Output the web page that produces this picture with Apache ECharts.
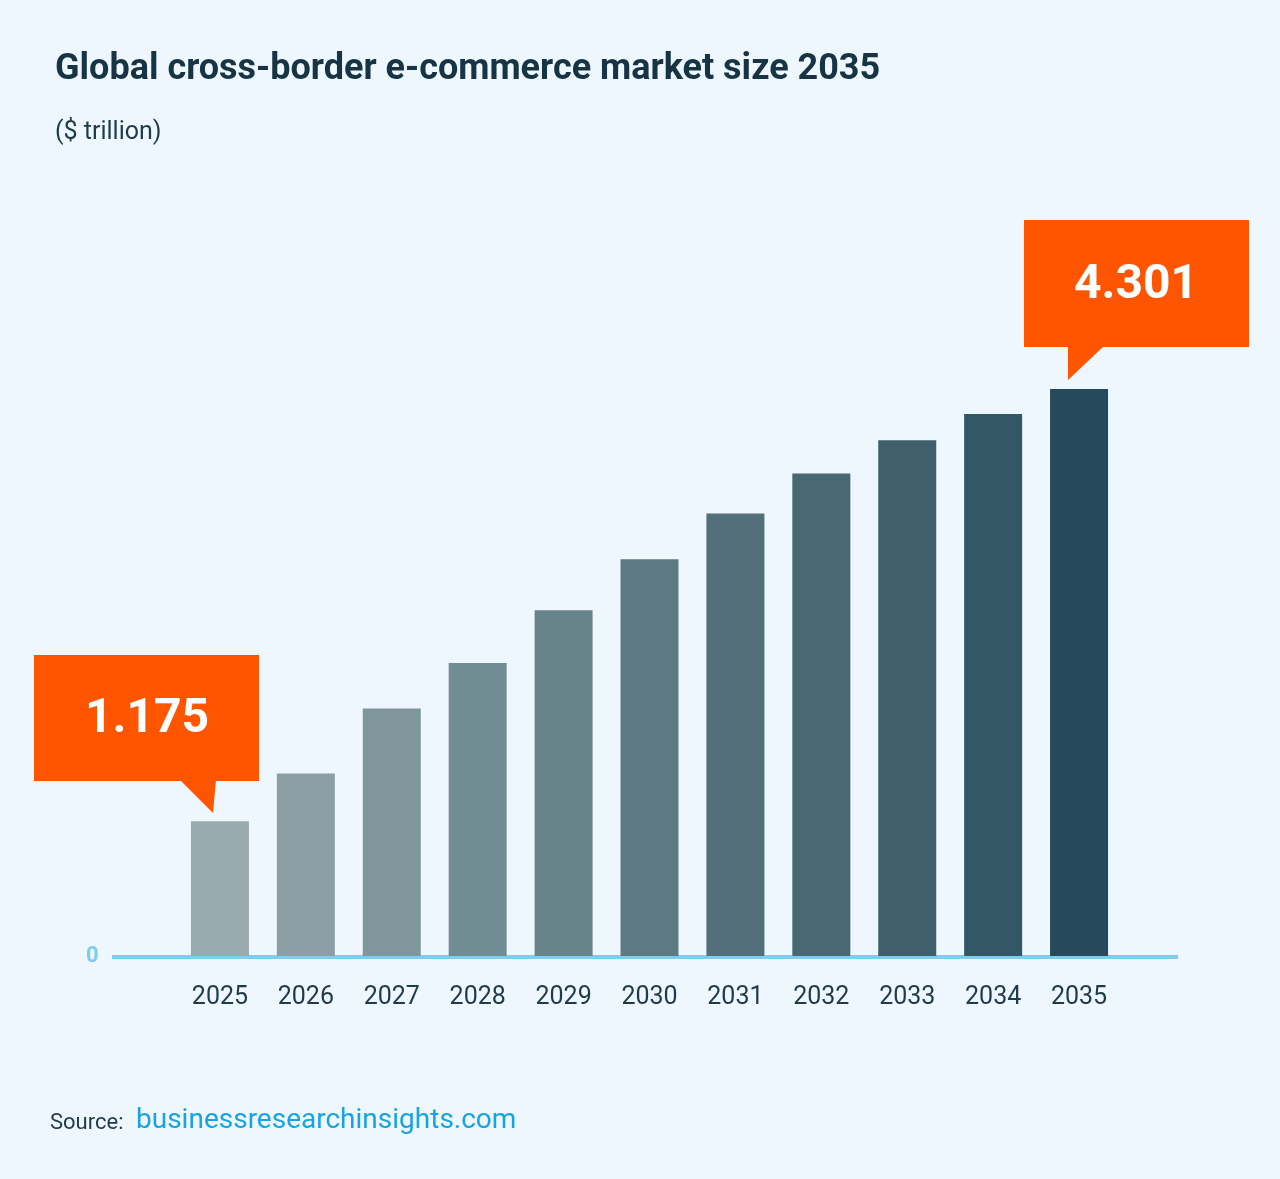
<!DOCTYPE html>
<html><head><meta charset="utf-8">
<script src="https://cdn.jsdelivr.net/npm/echarts@6/dist/echarts.min.js"></script>
<style>html,body{margin:0;padding:0;background:#edf7fd;}#chart{width:1280px;height:1179px;}</style>
</head><body><div id="chart"></div>
<script>
var years = ['2025','2026','2027','2028','2029','2030','2031','2032','2033','2034','2035'];
var values = [1.175, 1.52, 1.99, 2.32, 2.70, 3.07, 3.40, 3.69, 3.93, 4.12, 4.301];
var barColors = ['#9aabb0','#8c9fa5','#7f969c','#728c93','#688389','#5d7a83','#526f7a','#486873','#3e5f6b','#325866','#254b5a'];

var chart = echarts.init(document.getElementById('chart'));
var dark = '#1f3b4a', orange = '#ff5500';
var option = {
    backgroundColor: '#edf7fd',
    textStyle: {fontFamily: 'Roboto'},
    title: [
        {text: 'Global cross-border e-commerce market size 2035', left: 50, top: 47,
         textStyle: {fontSize: 36, fontWeight: 'bold', color: '#163443', fontFamily: 'Roboto'}},
        {text: '($ trillion)', left: 50, top: 115,
         textStyle: {fontSize: 25, fontWeight: 'normal', color: dark, fontFamily: 'Roboto'}}
    ],
    grid: {left: 177, right: 158, top: 389, bottom: 223},
    xAxis: {
        type: 'category', data: years,
        axisLine: {show: false}, axisTick: {show: false},
        axisLabel: {color: dark, fontSize: 25, margin: 29}
    },
    yAxis: {
        type: 'value', min: 0.2, max: 4.301,
        splitLine: {show: false}, axisLabel: {show: false}
    },
    series: [{
        type: 'bar', barWidth: 58,
        data: values.map(function (v, i) { return {value: v, itemStyle: {color: barColors[i]}}; })
    }],
    graphic: [
        {type: 'line', shape: {x1: 112, y1: 957, x2: 1178, y2: 957}, style: {stroke: '#7dcdf0', lineWidth: 4}},
        {type: 'text', x: 86, y: 945, style: {text: '0', fill: '#7dcdf0', font: 'bold 22px Roboto'}},
        {type: 'rect', shape: {x: 34, y: 655, width: 225, height: 126}, style: {fill: orange}},
        {type: 'polygon', shape: {points: [[180, 780], [216, 780], [213, 813]]}, style: {fill: orange}},
        {type: 'text', x: 147, y: 720, style: {text: '1.175', fill: '#fff', font: 'bold 48px Roboto', align: 'center', verticalAlign: 'middle'}},
        {type: 'rect', shape: {x: 1024, y: 220, width: 225, height: 127}, style: {fill: orange}},
        {type: 'polygon', shape: {points: [[1068, 346], [1104, 346], [1068, 380]]}, style: {fill: orange}},
        {type: 'text', x: 1136, y: 286, style: {text: '4.301', fill: '#fff', font: 'bold 48px Roboto', align: 'center', verticalAlign: 'middle'}},
        {type: 'text', x: 50, y: 1112, style: {text: 'Source:', fill: dark, font: '22px Roboto'}},
        {type: 'text', x: 136, y: 1107, style: {text: 'businessresearchinsights.com', fill: '#1aa3e0', font: '28px Roboto'}}
    ]
};
chart.setOption(option);
</script></body></html>
